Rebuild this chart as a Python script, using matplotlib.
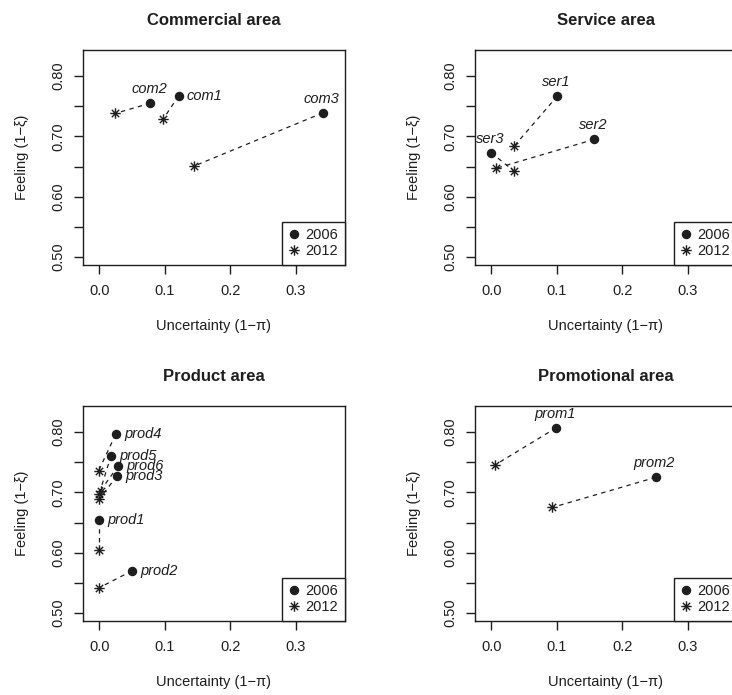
import matplotlib
matplotlib.use("Agg")
import matplotlib.pyplot as plt
from matplotlib.path import Path
from matplotlib.lines import Line2D

plt.rcParams['font.family'] = ['Liberation Sans', 'DejaVu Sans']

# ---------------- data ----------------
titles = ['Commercial area', 'Service area', 'Product area', 'Promotional area']
legend_labels = ['2006', '2012']
x_ticks = [0.0, 0.1, 0.2, 0.3]
y_ticks = [0.50, 0.55, 0.60, 0.65, 0.70, 0.75, 0.80]
y_ticklabels = ['0.50', '', '0.60', '', '0.70', '', '0.80']
x_label = 'Uncertainty (1\u2212\u03c0)'
y_label = 'Feeling (1\u2212\u03be)'

com_labels = ['com1', 'com2', 'com3']
com_x2006 = [0.121, 0.078, 0.341]
com_y2006 = [0.767, 0.755, 0.739]
com_x2012 = [0.097, 0.024, 0.145]
com_y2012 = [0.728, 0.738, 0.651]
com_pos = ['right', 'above', 'above']

ser_labels = ['ser1', 'ser2', 'ser3']
ser_x2006 = [0.101, 0.157, 0.000]
ser_y2006 = [0.767, 0.695, 0.673]
ser_x2012 = [0.035, 0.007, 0.035]
ser_y2012 = [0.684, 0.647, 0.642]
ser_pos = ['above', 'above', 'above']

prod_labels = ['prod1', 'prod2', 'prod3', 'prod4', 'prod5', 'prod6']
prod_x2006 = [0.000, 0.050, 0.027, 0.025, 0.018, 0.029]
prod_y2006 = [0.654, 0.570, 0.727, 0.796, 0.761, 0.744]
prod_x2012 = [0.000, 0.000, 0.000, -0.001, 0.000, 0.002]
prod_y2012 = [0.605, 0.542, 0.689, 0.736, 0.698, 0.703]
prod_pos = ['right'] * 6

prom_labels = ['prom1', 'prom2']
prom_x2006 = [0.099, 0.251]
prom_y2006 = [0.807, 0.725]
prom_x2012 = [0.005, 0.093]
prom_y2012 = [0.745, 0.675]
prom_pos = ['above', 'above']

panels = [
    (com_labels, com_x2006, com_y2006, com_x2012, com_y2012, com_pos),
    (ser_labels, ser_x2006, ser_y2006, ser_x2012, ser_y2012, ser_pos),
    (prod_labels, prod_x2006, prod_y2006, prod_x2012, prod_y2012, prod_pos),
    (prom_labels, prom_x2006, prom_y2006, prom_x2012, prom_y2012, prom_pos),
]

# ---------------- style ----------------
INK = '#1e1e1e'
asterisk = Path(
    [(-1, 0), (1, 0), (0, -1), (0, 1),
     (-0.707, -0.707), (0.707, 0.707), (-0.707, 0.707), (0.707, -0.707)],
    [Path.MOVETO, Path.LINETO] * 4)

W, H = 732, 695
fig = plt.figure(figsize=(W / 100, H / 100), dpi=100)

boxes = [  # left, top, right, bottom in pixels
    (83, 50, 345, 265),
    (475, 50, 737, 265),
    (83, 406, 345, 621),
    (475, 406, 737, 621),
]

for (l, t, r, b), title, (labs, x06, y06, x12, y12, pos) in zip(boxes, titles, panels):
    ax = fig.add_axes([l / W, 1 - b / H, (r - l) / W, (b - t) / H])
    ax.set_xlim(-0.0248, 0.3748)
    ax.set_ylim(0.4868, 0.8432)
    for sp in ax.spines.values():
        sp.set_color(INK)
        sp.set_linewidth(1.0)
    ax.set_xticks(x_ticks)
    ax.set_xticklabels([f'{v:.1f}' for v in x_ticks])
    ax.set_yticks(y_ticks)
    ax.set_yticklabels(y_ticklabels, rotation=90, va='center')
    ax.tick_params(direction='out', length=6.5, width=1.0, color=INK,
                   labelsize=10.5, labelcolor=INK)
    ax.tick_params(axis='x', pad=7.5)
    ax.tick_params(axis='y', pad=6)
    ax.set_xlabel(x_label, fontsize=10.5, color=INK, labelpad=15)
    ax.set_ylabel(y_label, fontsize=10.5, color=INK, labelpad=16)
    ax.set_title(title, fontsize=12, fontweight='bold', color=INK, pad=18)

    for i in range(len(labs)):
        ax.plot([x06[i], x12[i]], [y06[i], y12[i]], color=INK, lw=0.9,
                dashes=(3.5, 3.5), zorder=2)
    ax.plot(x06, y06, 'o', color=INK, ms=5.8, ls='none', zorder=3)
    ax.plot(x12, y12, ls='none', marker=asterisk, ms=7.5, mfc='none',
            mec=INK, mew=1.0, zorder=3)
    for i, lab in enumerate(labs):
        if pos[i] == 'right':
            ax.annotate(lab, (x06[i], y06[i]), xytext=(6, 0), textcoords='offset points',
                        ha='left', va='center', fontsize=10.5, style='italic', color=INK)
        else:
            ax.annotate(lab, (x06[i], y06[i]), xytext=(-1, 5), textcoords='offset points',
                        ha='center', va='bottom', fontsize=10.5, style='italic', color=INK)

    handles = [
        Line2D([], [], marker='o', ls='none', color=INK, ms=5.8),
        Line2D([], [], marker=asterisk, ls='none', mfc='none', mec=INK, mew=1.0, ms=7.5),
    ]
    leg = ax.legend(handles, legend_labels, loc='lower right', fontsize=10.5,
                    frameon=True, fancybox=False, edgecolor=INK, framealpha=1,
                    borderaxespad=0, handlelength=0.8, handletextpad=0.4,
                    borderpad=0.45, labelspacing=0.15)
    leg.get_frame().set_linewidth(1.0)
    for txt in leg.get_texts():
        txt.set_color(INK)

fig.savefig('out.png', dpi=100)
